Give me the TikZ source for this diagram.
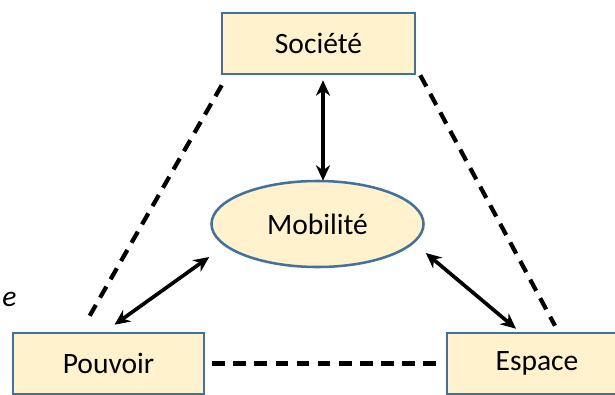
\documentclass[tikz,border=0pt]{standalone}
\usepackage{fontspec}
\setmainfont{Carlito}
\usepackage{xcolor}
\usepackage{tikz}
\usetikzlibrary{
  shapes.geometric,
  arrows.meta,
  calc
}
\definecolor{edgeblue}{RGB}{65, 113, 156}
\definecolor{boxcream}{RGB}{255, 242, 204}
\tikzset{
  pole/.style = {
    rectangle, draw=edgeblue, line width=1.8pt,
    fill=boxcream, minimum width=#1, minimum height=1.525cm,
    inner sep=0pt, align=center, font=\fontsize{21}{25}\selectfont
  },
  pole/.default = 4.825cm,
  hub/.style = {
    ellipse, draw=edgeblue, line width=1.8pt,
    fill=boxcream, minimum width=5.3cm, minimum height=2.15cm,
    inner sep=0pt, align=center, font=\fontsize{21}{25}\selectfont
  },
  arr/.style  = {{Stealth[length=11pt, width=10pt]}-{Stealth[length=11pt, width=10pt]},
                 draw=black, line width=2.6pt},
  dashline/.style = {draw=black, line width=3pt, dash pattern=on 9pt off 6pt},
  sidenote/.style = {font=\fontsize{21}{25}\selectfont\itshape, inner sep=0pt},
}

\begin{document}
\begin{tikzpicture}[x=0.025cm, y=-0.025cm]

  \useasboundingbox (0,0) rectangle (615,394);

  %% ── Poles and hub ─────────────────────────────────────────────────────
  \node[pole] (societe) at (318.5,43.5) {Soci\'et\'e};
  \node[pole=4.775cm] (pouvoir) at (108.5,363.5) {Pouvoir};
  \node[pole=4.5cm] (espace) at (537,363.5) {Espace};
  \node[hub] (mobilite) at (317.5,224) {Mobilit\'e};

  % note at the left edge
  \node[sidenote, anchor=base west] (note) at (2,306) {e};

  %% ── Dashed triangle ───────────────────────────────────────────────────
  \draw[dashline] ($(societe.south west)+(1,10)$) -- ($(pouvoir.north west)+(78,-16)$);
  \draw[dashline] ($(societe.south east)+(4,0)$) -- ($(espace.north)+(18,-6)$);
  \draw[dashline] ($(pouvoir.east)+(7,0)$) -- ($(espace.west)+(-4,0)$);

  %% ── Arrows to the hub ─────────────────────────────────────────────────
  \draw[arr] ($(societe.south)+(4.5,5)$) -- ($(mobilite.north)+(5.5,1)$);
  \draw[arr] ($(pouvoir.north)+(6,-7)$) -- ($(mobilite.west)+(-1,33)$);
  \draw[arr] ($(mobilite.east)+(1,29)$) -- ($(espace.north)+(-21,-3)$);

\end{tikzpicture}
\end{document}
